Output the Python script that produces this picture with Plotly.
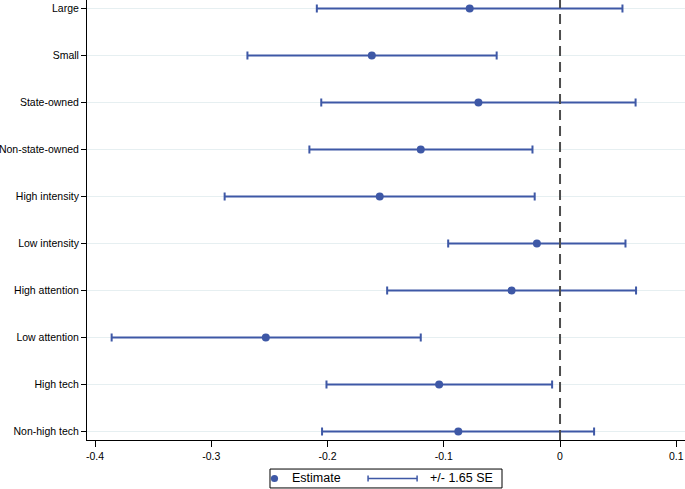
import plotly.graph_objects as go

categories = ["Large", "Small", "State-owned", "Non-state-owned", "High intensity",
              "Low intensity", "High attention", "Low attention", "High tech", "Non-high tech"]
estimate = [-0.0777, -0.1619, -0.0702, -0.1198, -0.1551, -0.0199, -0.0417, -0.2531, -0.1040, -0.0875]
lower = [-0.2092, -0.2689, -0.2054, -0.2156, -0.2885, -0.0962, -0.1487, -0.3857, -0.2009, -0.2047]
upper = [0.0537, -0.0545, 0.0650, -0.0237, -0.0218, 0.0563, 0.0654, -0.1198, -0.0068, 0.0293]
x_ticks = [-0.4, -0.3, -0.2, -0.1, 0, 0.1]
x_ticktext = ["-0.4", "-0.3", "-0.2", "-0.1", "0", "0.1"]

BLUE = "#3e58a6"
FONT = "Liberation Sans, Arial, sans-serif"

err_plus = [u - e for u, e in zip(upper, estimate)]
err_minus = [e - l for e, l in zip(estimate, lower)]

fig = go.Figure()
fig.add_trace(go.Scatter(
    x=estimate, y=categories, mode="markers",
    marker=dict(color=BLUE, size=8),
    error_x=dict(type="data", symmetric=False, array=err_plus, arrayminus=err_minus,
                 color=BLUE, thickness=2, width=4),
    name="Estimate", showlegend=False,
))

fig.add_vline(x=0, line=dict(color="#4d4d4d", width=2, dash="10px,6px"))

# manual legend
shapes = [
    dict(type="rect", xref="paper", yref="paper", x0=0.306, x1=0.694, y0=-0.109, y1=-0.066,
         line=dict(color="black", width=1), fillcolor="white"),
    dict(type="circle", xref="paper", yref="paper", x0=0.3075, x1=0.3195, y0=-0.0955, y1=-0.0795,
         line=dict(color=BLUE, width=0), fillcolor=BLUE),
    dict(type="line", xref="paper", yref="paper", x0=0.470, x1=0.552, y0=-0.0875, y1=-0.0875,
         line=dict(color=BLUE, width=1.5)),
    dict(type="line", xref="paper", yref="paper", x0=0.470, x1=0.470, y0=-0.0945, y1=-0.0805,
         line=dict(color=BLUE, width=1.5)),
    dict(type="line", xref="paper", yref="paper", x0=0.552, x1=0.552, y0=-0.0945, y1=-0.0805,
         line=dict(color=BLUE, width=1.5)),
]
for s in shapes:
    fig.add_shape(**s)

fig.add_annotation(text="Estimate", xref="paper", yref="paper", x=0.3395, y=-0.0875,
                   xanchor="left", yanchor="middle", showarrow=False,
                   font=dict(family=FONT, size=12.5, color="black"))
fig.add_annotation(text="+/- 1.65 SE", xref="paper", yref="paper", x=0.5702, y=-0.0875,
                   xanchor="left", yanchor="middle", showarrow=False,
                   font=dict(family=FONT, size=12.5, color="black"))

fig.update_layout(
    width=685, height=489,
    margin=dict(l=87, r=0, t=0, b=49),
    paper_bgcolor="white", plot_bgcolor="white",
    font=dict(family=FONT, size=10.5, color="black"),
    xaxis=dict(range=[-0.4069, 0.1075], tickvals=x_ticks, ticktext=x_ticktext,
               showgrid=False, zeroline=False, showline=True, linecolor="black", linewidth=1,
               ticks="outside", ticklen=6, tickcolor="black", tickwidth=1,
               tickfont=dict(size=10.5)),
    yaxis=dict(type="category", categoryorder="array", categoryarray=categories[::-1],
               range=[-0.18, 9.18], showgrid=True, gridcolor="#e6eff1", gridwidth=1,
               zeroline=False, showline=True, linecolor="black", linewidth=1,
               ticks="outside", ticklen=5, tickcolor="black", tickwidth=1,
               tickfont=dict(size=10.5)),
    showlegend=False,
)

fig.write_html("out.html", config={"displayModeBar": False},
               post_script="document.body.style.margin='0';")
